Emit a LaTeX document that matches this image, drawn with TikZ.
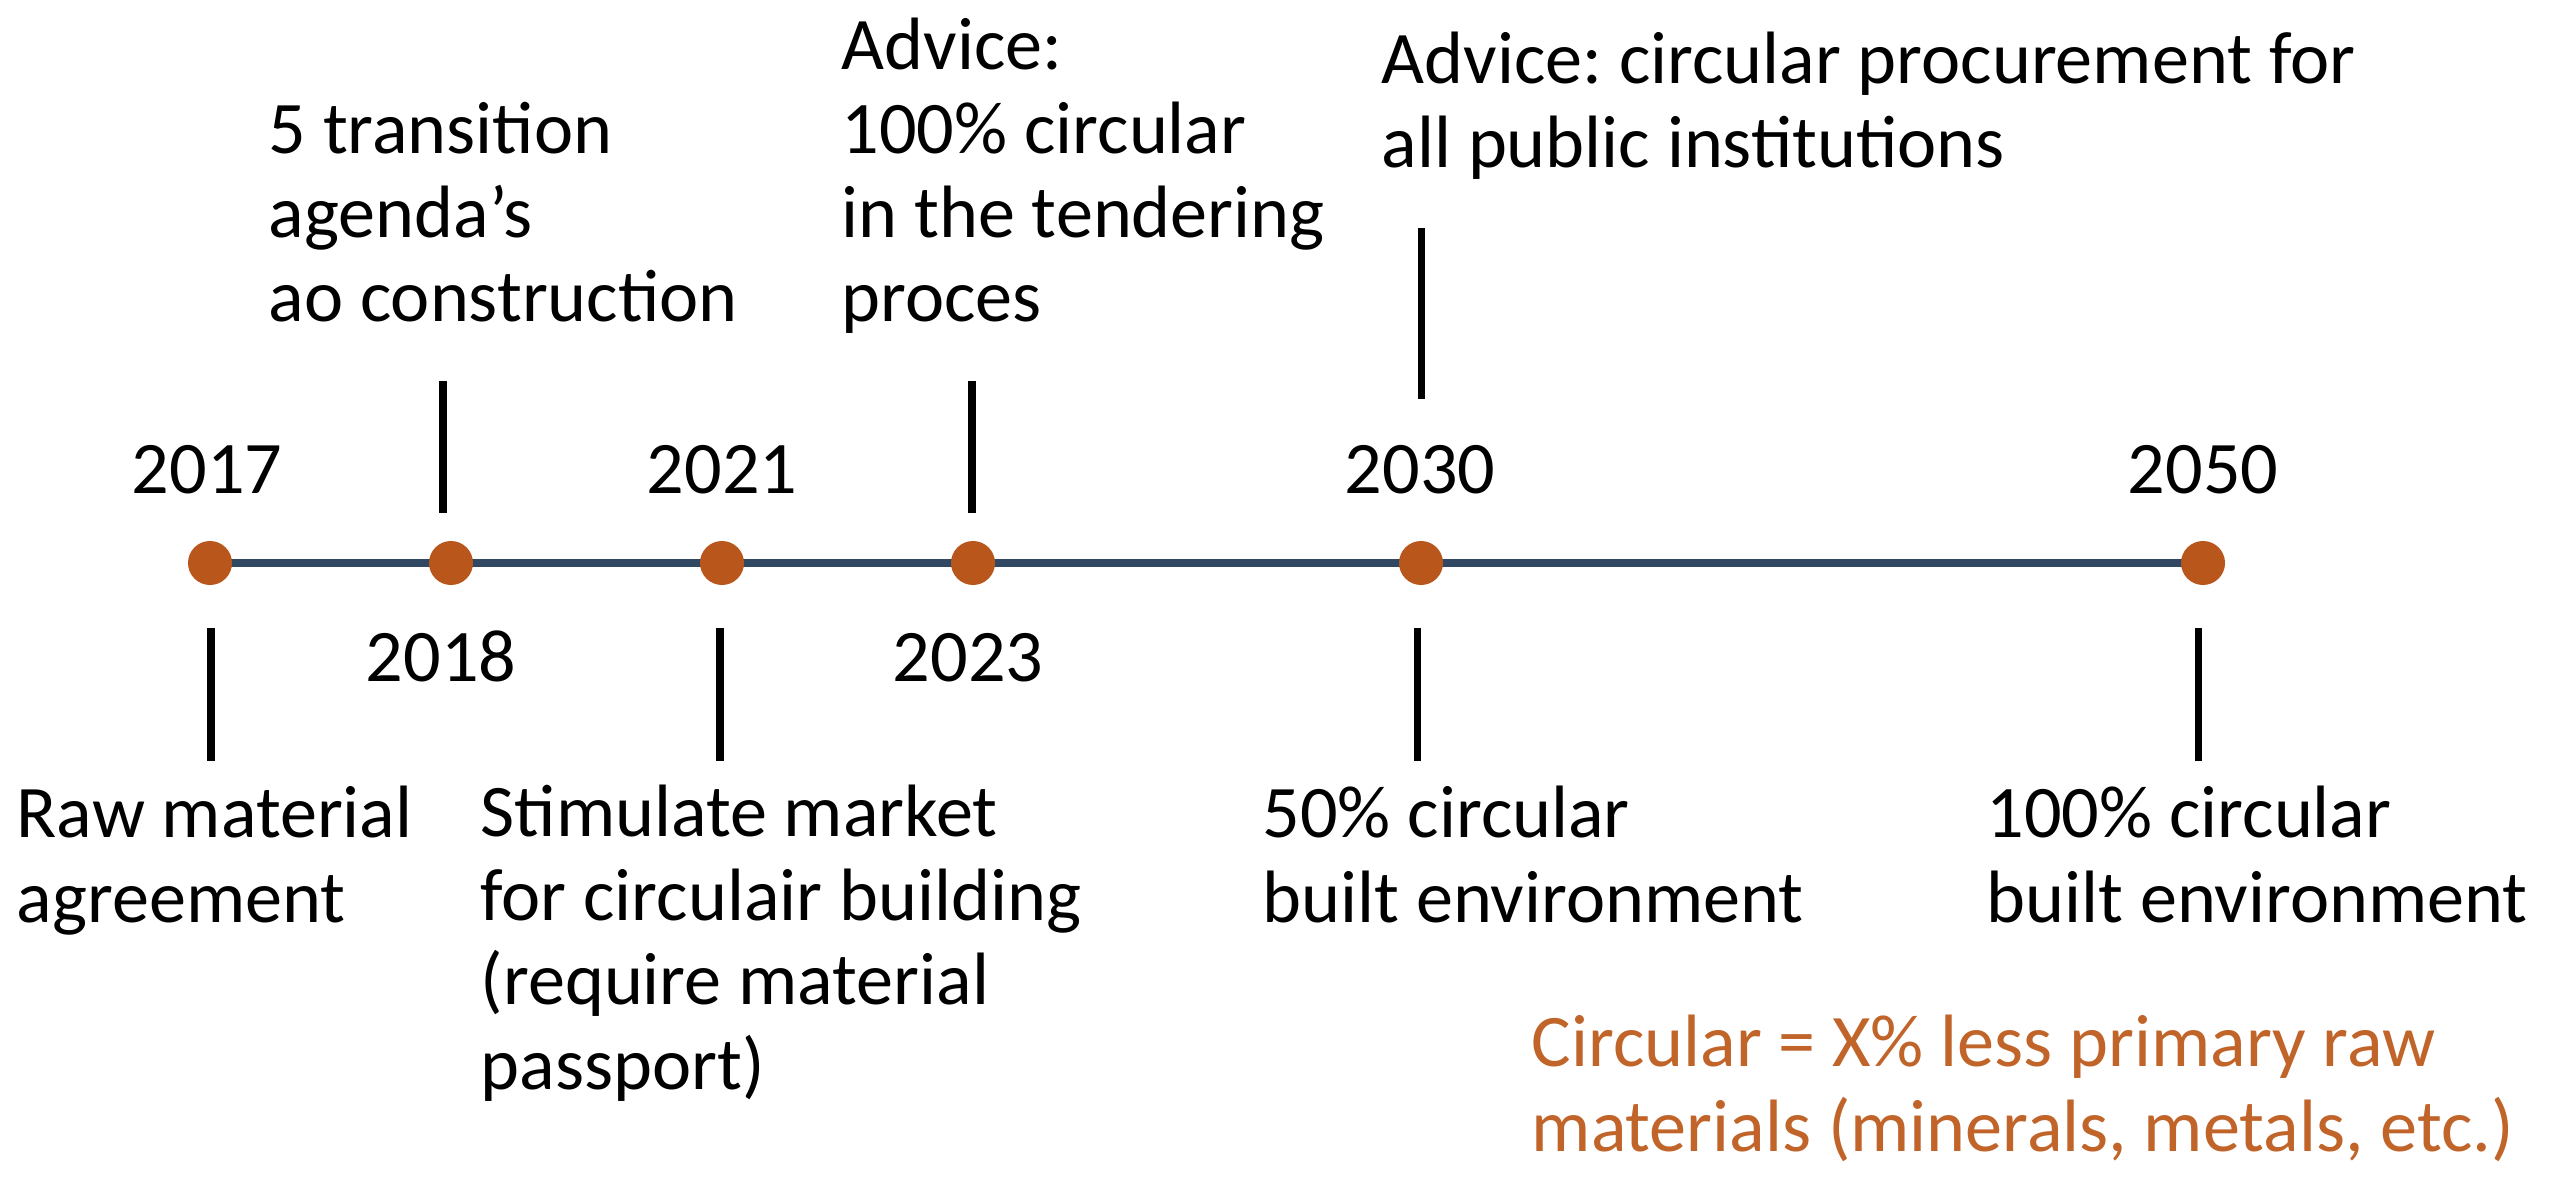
\documentclass[tikz,border=0pt]{standalone}
\usepackage{fontspec}
\setmainfont{Carlito}
\frenchspacing
\usetikzlibrary{backgrounds}
\definecolor{dotc}{RGB}{184,86,28}
\definecolor{linec}{RGB}{48,72,98}
\definecolor{notec}{RGB}{192,100,42}
\begin{document}
\begin{tikzpicture}[x=0.01cm,y=-0.01cm,
  dotnode/.style={circle,fill=dotc,draw=none,minimum size=0.44cm,inner sep=0pt},
  txt/.style={anchor=base west,align=left,inner sep=0pt,font=\fontsize{21.1pt}{23.9pt}\selectfont},
  yr/.style={anchor=base,inner sep=0pt,font=\fontsize{21.1pt}{23.9pt}\selectfont},
  tick/.style={draw=black,line width=2pt},
  tl/.style={draw=linec,line width=2pt}]
\useasboundingbox (0,0) rectangle (2549,1183);
% dots
\node[dotnode] (d2017) at (210,563) {};
\node[dotnode] (d2018) at (451,563) {};
\node[dotnode] (d2021) at (722,563) {};
\node[dotnode] (d2023) at (973,563) {};
\node[dotnode] (d2030) at (1421,563) {};
\node[dotnode] (d2050) at (2203,563) {};
\begin{pgfonlayer}{background}
\draw[tl] (d2017.center) -- (d2050.center);
\end{pgfonlayer}
% years
\node[yr] (y2017) at (207,494) {2017};
\node[yr] (y2021) at (722,494) {2021};
\node[yr] (y2030) at (1420,494) {2030};
\node[yr] (y2050) at (2203,494) {2050};
\node[yr] (y2018) at (441,682) {2018};
\node[yr] (y2023) at (968,682) {2023};
% ticks
\coordinate (t18a) at (443,381); \coordinate (t18b) at (443,513);
\coordinate (t23a) at (972,381); \coordinate (t23b) at (972,513);
\coordinate (t30a) at (1421,228); \coordinate (t30b) at (1421,399);
\coordinate (t17a) at (211,628); \coordinate (t17b) at (211,761);
\coordinate (t21a) at (720,628); \coordinate (t21b) at (720,761);
\coordinate (t30c) at (1417,628); \coordinate (t30d) at (1417,761);
\coordinate (t50a) at (2198,628); \coordinate (t50b) at (2198,761);
\draw[tick] (t18a) -- (t18b);
\draw[tick] (t23a) -- (t23b);
\draw[tick] (t30a) -- (t30b);
\draw[tick] (t17a) -- (t17b);
\draw[tick] (t21a) -- (t21b);
\draw[tick] (t30c) -- (t30d);
\draw[tick] (t50a) -- (t50b);
% texts (anchored at the baseline of the last line)
\node[txt] (n2018) at (268,322) {5 transition\\agenda’s\\ao construction};
\node[txt] (n2023) at (841,322) {Advice:\\100\% circular\\in the tendering\\proces};
\node[txt] (n2030a) at (1381,168) {Advice: circular procurement for\\all public institutions};
\node[txt] (n2017) at (16,922) {Raw material\\agreement};
\node[txt] (n2021) at (480,1089) {Stimulate market\\for circulair building\\(require material\\passport)};
\node[txt] (n2030b) at (1262,922) {50\% circular\\built environment};
\node[txt] (n2050) at (1986,922) {100\% circular\\built environment};
\node[txt,text=notec] (note) at (1531,1151) {Circular = X\% less primary raw\\materials (minerals, metals, etc.)};
\end{tikzpicture}
\end{document}
